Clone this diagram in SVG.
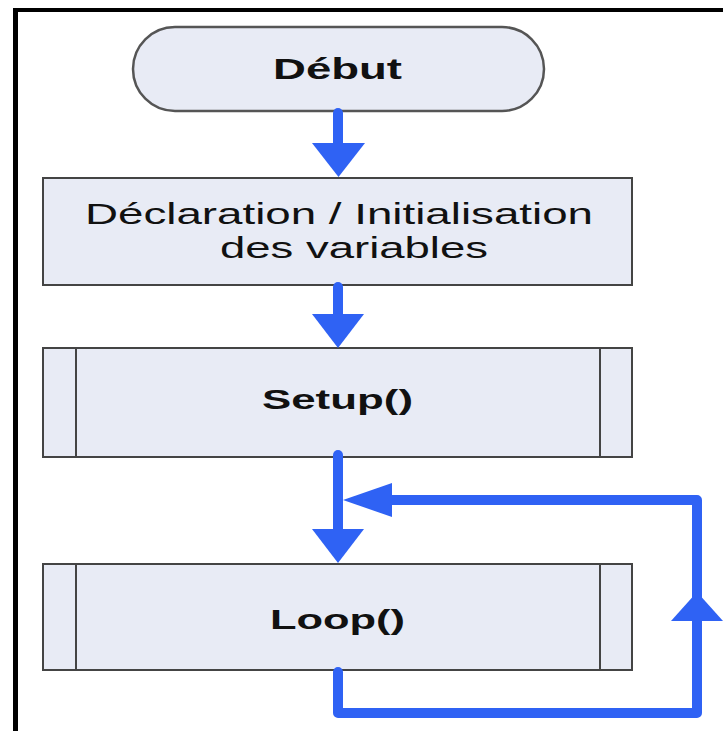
<svg xmlns="http://www.w3.org/2000/svg" width="723" height="731" viewBox="0 0 723 731">
  <style>
    .box { fill: #e8ebf5; stroke: #444; stroke-width: 2; }
    .div { stroke: #444; stroke-width: 2; }
    .lbl { font-family: "Liberation Sans", Arial, sans-serif; fill: #111; }
    .b { font-weight: bold; }
    .wire { fill: none; stroke: #2f62f4; stroke-width: 10; stroke-linecap: round; stroke-linejoin: round; }
    .head { fill: #2f62f4; }
  </style>
  <rect x="0" y="0" width="723" height="731" fill="#ffffff"/>
  <g id="frame">
    <rect x="13" y="8" width="710" height="4" fill="#000"/>
    <rect x="13" y="8" width="5" height="723" fill="#000"/>
  </g>

  <g id="debut">
    <rect class="box" x="133" y="27" width="411" height="84" rx="42" ry="42" style="stroke:#555;stroke-width:2.5"/>
    <text class="lbl b" x="273" y="79" font-size="30" textLength="129" lengthAdjust="spacingAndGlyphs">Début</text>
  </g>

  <g id="declaration">
    <rect class="box" x="43" y="178" width="589" height="107"/>
    <text class="lbl" x="85" y="224" font-size="30" textLength="508" lengthAdjust="spacingAndGlyphs">Déclaration / Initialisation</text>
    <text class="lbl" x="220" y="258" font-size="30" textLength="268" lengthAdjust="spacingAndGlyphs">des variables</text>
  </g>

  <g id="setup">
    <rect class="box" x="43" y="348" width="589" height="109"/>
    <line class="div" x1="76" y1="348" x2="76" y2="457"/>
    <line class="div" x1="600" y1="348" x2="600" y2="457"/>
    <text class="lbl b" x="262" y="409" font-size="28" textLength="151" lengthAdjust="spacingAndGlyphs">Setup()</text>
  </g>

  <g id="loop">
    <rect class="box" x="43" y="564" width="589" height="106"/>
    <line class="div" x1="76" y1="564" x2="76" y2="670"/>
    <line class="div" x1="600" y1="564" x2="600" y2="670"/>
    <text class="lbl b" x="270" y="629" font-size="28" textLength="135" lengthAdjust="spacingAndGlyphs">Loop()</text>
  </g>

  <g id="connectors">
    <line class="wire" x1="338" y1="113" x2="338" y2="146"/>
    <polygon class="head" points="312,143 365,143 338.5,177"/>
    <line class="wire" x1="338" y1="287" x2="338" y2="318"/>
    <polygon class="head" points="312,314 364,314 338,348"/>
    <line class="wire" x1="338" y1="455" x2="338" y2="532"/>
    <polygon class="head" points="312,529 364,529 338,563"/>
    <path class="wire" d="M338,672 V713 H697 V500 H388"/>
    <polygon class="head" points="392,483 392,517 343,500"/>
    <polygon class="head" points="671,621 723,621 697,592"/>
  </g>
</svg>
